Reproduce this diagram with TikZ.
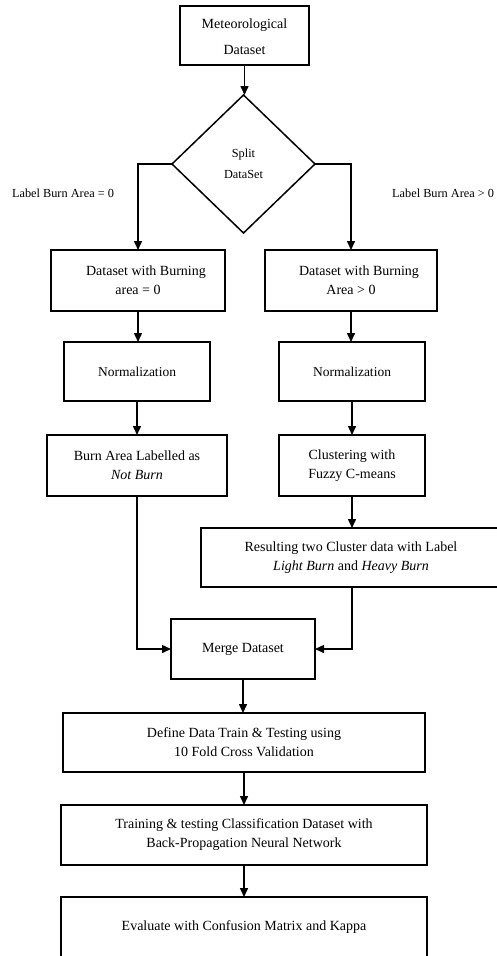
\documentclass[tikz,border=0pt]{standalone}
\usepackage{fontspec}
\setmainfont{Liberation Serif}
\usetikzlibrary{shapes.geometric,arrows.meta}
\begin{document}
\begin{tikzpicture}[x=1pt,y=-1pt,
  box/.style={draw, line width=1.5pt, rectangle, inner sep=0pt, outer sep=0pt, align=center, font=\fontsize{14}{19}\selectfont},
  dia/.style={draw, diamond, line width=1.5pt, inner sep=0pt, outer sep=0pt, align=center, font=\fontsize{12.3}{21}\selectfont},
  arr/.style={line width=1.5pt, -{Triangle[length=9pt,width=8pt]}},
  lab/.style={font=\fontsize{12.3}{15}\selectfont, inner sep=0pt}]
\useasboundingbox (0,0) rectangle (496,956);
\node[box, minimum width=129pt, minimum height=59pt] (top) at (244.5,35.5) {\rule{0pt}{0pt}\\[-7pt]Meteorological\\[7pt]Dataset};
\node[dia, minimum width=143pt, minimum height=138pt] (split) at (243.5,164) {Split\\DataSet};
\node[lab, anchor=center] (labl) at (63,193) {Label Burn Area = 0};
\node[lab, anchor=west] (labr) at (392,193) {Label Burn Area > 0};
\node[box, minimum width=174pt, minimum height=61pt] (l1) at (138,280.5) {\hspace*{16pt}Dataset with Burning\\area = 0};
\node[box, minimum width=172pt, minimum height=61pt] (r1) at (351,280.5) {\hspace*{16pt}Dataset with Burning\\Area > 0};
\node[box, minimum width=146pt, minimum height=59pt, font=\fontsize{13.5}{19}\selectfont] (nl) at (137,371.5) {Normalization};
\node[box, minimum width=146pt, minimum height=59pt, font=\fontsize{13.5}{19}\selectfont] (nr) at (352,371.5) {Normalization};
\node[box, minimum width=180pt, minimum height=61pt] (bl) at (137,465.5) {Burn Area Labelled as\\\textit{Not Burn}};
\node[box, minimum width=146pt, minimum height=61pt] (cr) at (352,465.5) {Clustering with\\Fuzzy C-means};
\node[box, minimum width=300pt, minimum height=59pt] (res) at (351,557.5) {Resulting two Cluster data with Label\\\textit{Light Burn} and \textit{Heavy Burn}};
\node[box, minimum width=144pt, minimum height=60pt] (mg) at (243,649) {Merge Dataset};
\node[box, minimum width=362pt, minimum height=59pt] (df) at (244,742.5) {Define Data Train \& Testing using\\10 Fold Cross Validation};
\node[box, minimum width=366pt, minimum height=60pt] (tr) at (244,835) {Training \& testing Classification Dataset with\\Back-Propagation Neural Network};
\node[box, minimum width=366pt, minimum height=61pt] (ev) at (244,927.5) {Evaluate with Confusion Matrix and Kappa};
\draw[arr] (top.south) -- (top.south |- split.north);
\draw[arr] (split.west) -| (l1.north);
\draw[arr] (split.east) -| (r1.north);
\draw[arr] (l1.south) -- (l1.south |- nl.north);
\draw[arr] (r1.south) -- (r1.south |- nr.north);
\draw[arr] (nl.south) -- (nl.south |- bl.north);
\draw[arr] (nr.south) -- (nr.south |- cr.north);
\draw[arr] (cr.south) -- (cr.south |- res.north);
\draw[arr] (bl.south) |- (mg.west);
\draw[arr] (res.south -| cr.south) |- (mg.east);
\draw[arr] (mg.south) -- (mg.south |- df.north);
\draw[arr] (df.south) -- (df.south |- tr.north);
\draw[arr] (tr.south) -- (tr.south |- ev.north);
\end{tikzpicture}
\end{document}
